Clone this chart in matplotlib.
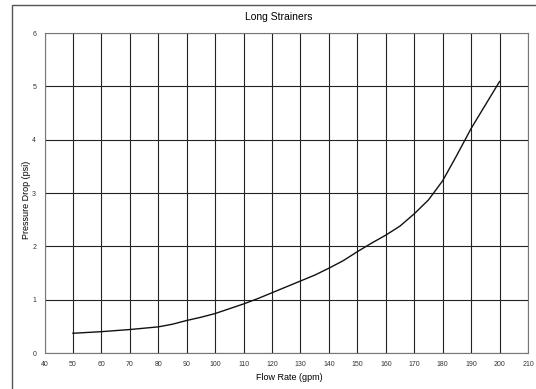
import matplotlib
matplotlib.use("Agg")
import matplotlib.pyplot as plt
from matplotlib.patches import Rectangle

flow = [50, 60, 70, 80, 85, 90, 95, 100, 105, 110, 115, 120, 125, 130, 135, 140,
        145, 150, 155, 160, 165, 170, 175, 180, 185, 190, 195, 200]
pressure = [0.37, 0.40, 0.44, 0.49, 0.54, 0.61, 0.67, 0.74, 0.83, 0.92, 1.02, 1.13,
            1.24, 1.35, 1.46, 1.59, 1.73, 1.90, 2.06, 2.21, 2.38, 2.61, 2.87, 3.23,
            3.71, 4.21, 4.65, 5.09]
x_ticks = list(range(40, 211, 10))
y_ticks = [0, 1, 2, 3, 4, 5, 6]

plt.rcParams['font.family'] = ['Liberation Sans', 'DejaVu Sans']

W, H = 536, 389
fig = plt.figure(figsize=(W / 100, H / 100), dpi=100)
ax = fig.add_axes([44.5 / W, 1 - 353 / H, (528 - 44.5) / W, (353 - 33) / H])

# outer frame
fig.patches.append(Rectangle((12 / W, -0.5), 2, (389 - 5) / H + 0.5,
                             transform=fig.transFigure, fill=False,
                             edgecolor='#555555', linewidth=1.0))

for x in x_ticks:
    ax.axvline(x, color='#222222', linewidth=0.8, zorder=1)
for y in y_ticks:
    ax.axhline(y, color='#222222', linewidth=0.8, zorder=1)

ax.plot(flow, pressure, color='#111111', linewidth=1.0, zorder=3,
        solid_joinstyle='round')

ax.set_xlim(40, 210)
ax.set_ylim(0, 6)
ax.set_xticks(x_ticks)
ax.set_yticks(y_ticks)
ax.tick_params(length=0, labelsize=5, colors='#333333', pad=6)
for s in ax.spines.values():
    s.set_color('#777777')
    s.set_linewidth(0.8)

fig.text(279 / W, 1 - 17 / H, 'Long Strainers', ha='center', va='center', fontsize=7.5)
fig.text(289 / W, 1 - 377 / H, 'Flow Rate (gpm)', ha='center', va='center', fontsize=6.5)
fig.text(27 / W, 1 - 200 / H, 'Pressure Drop (psi)', ha='center', va='center',
         rotation=90, fontsize=6.5)

fig.savefig('out.png', dpi=100)
